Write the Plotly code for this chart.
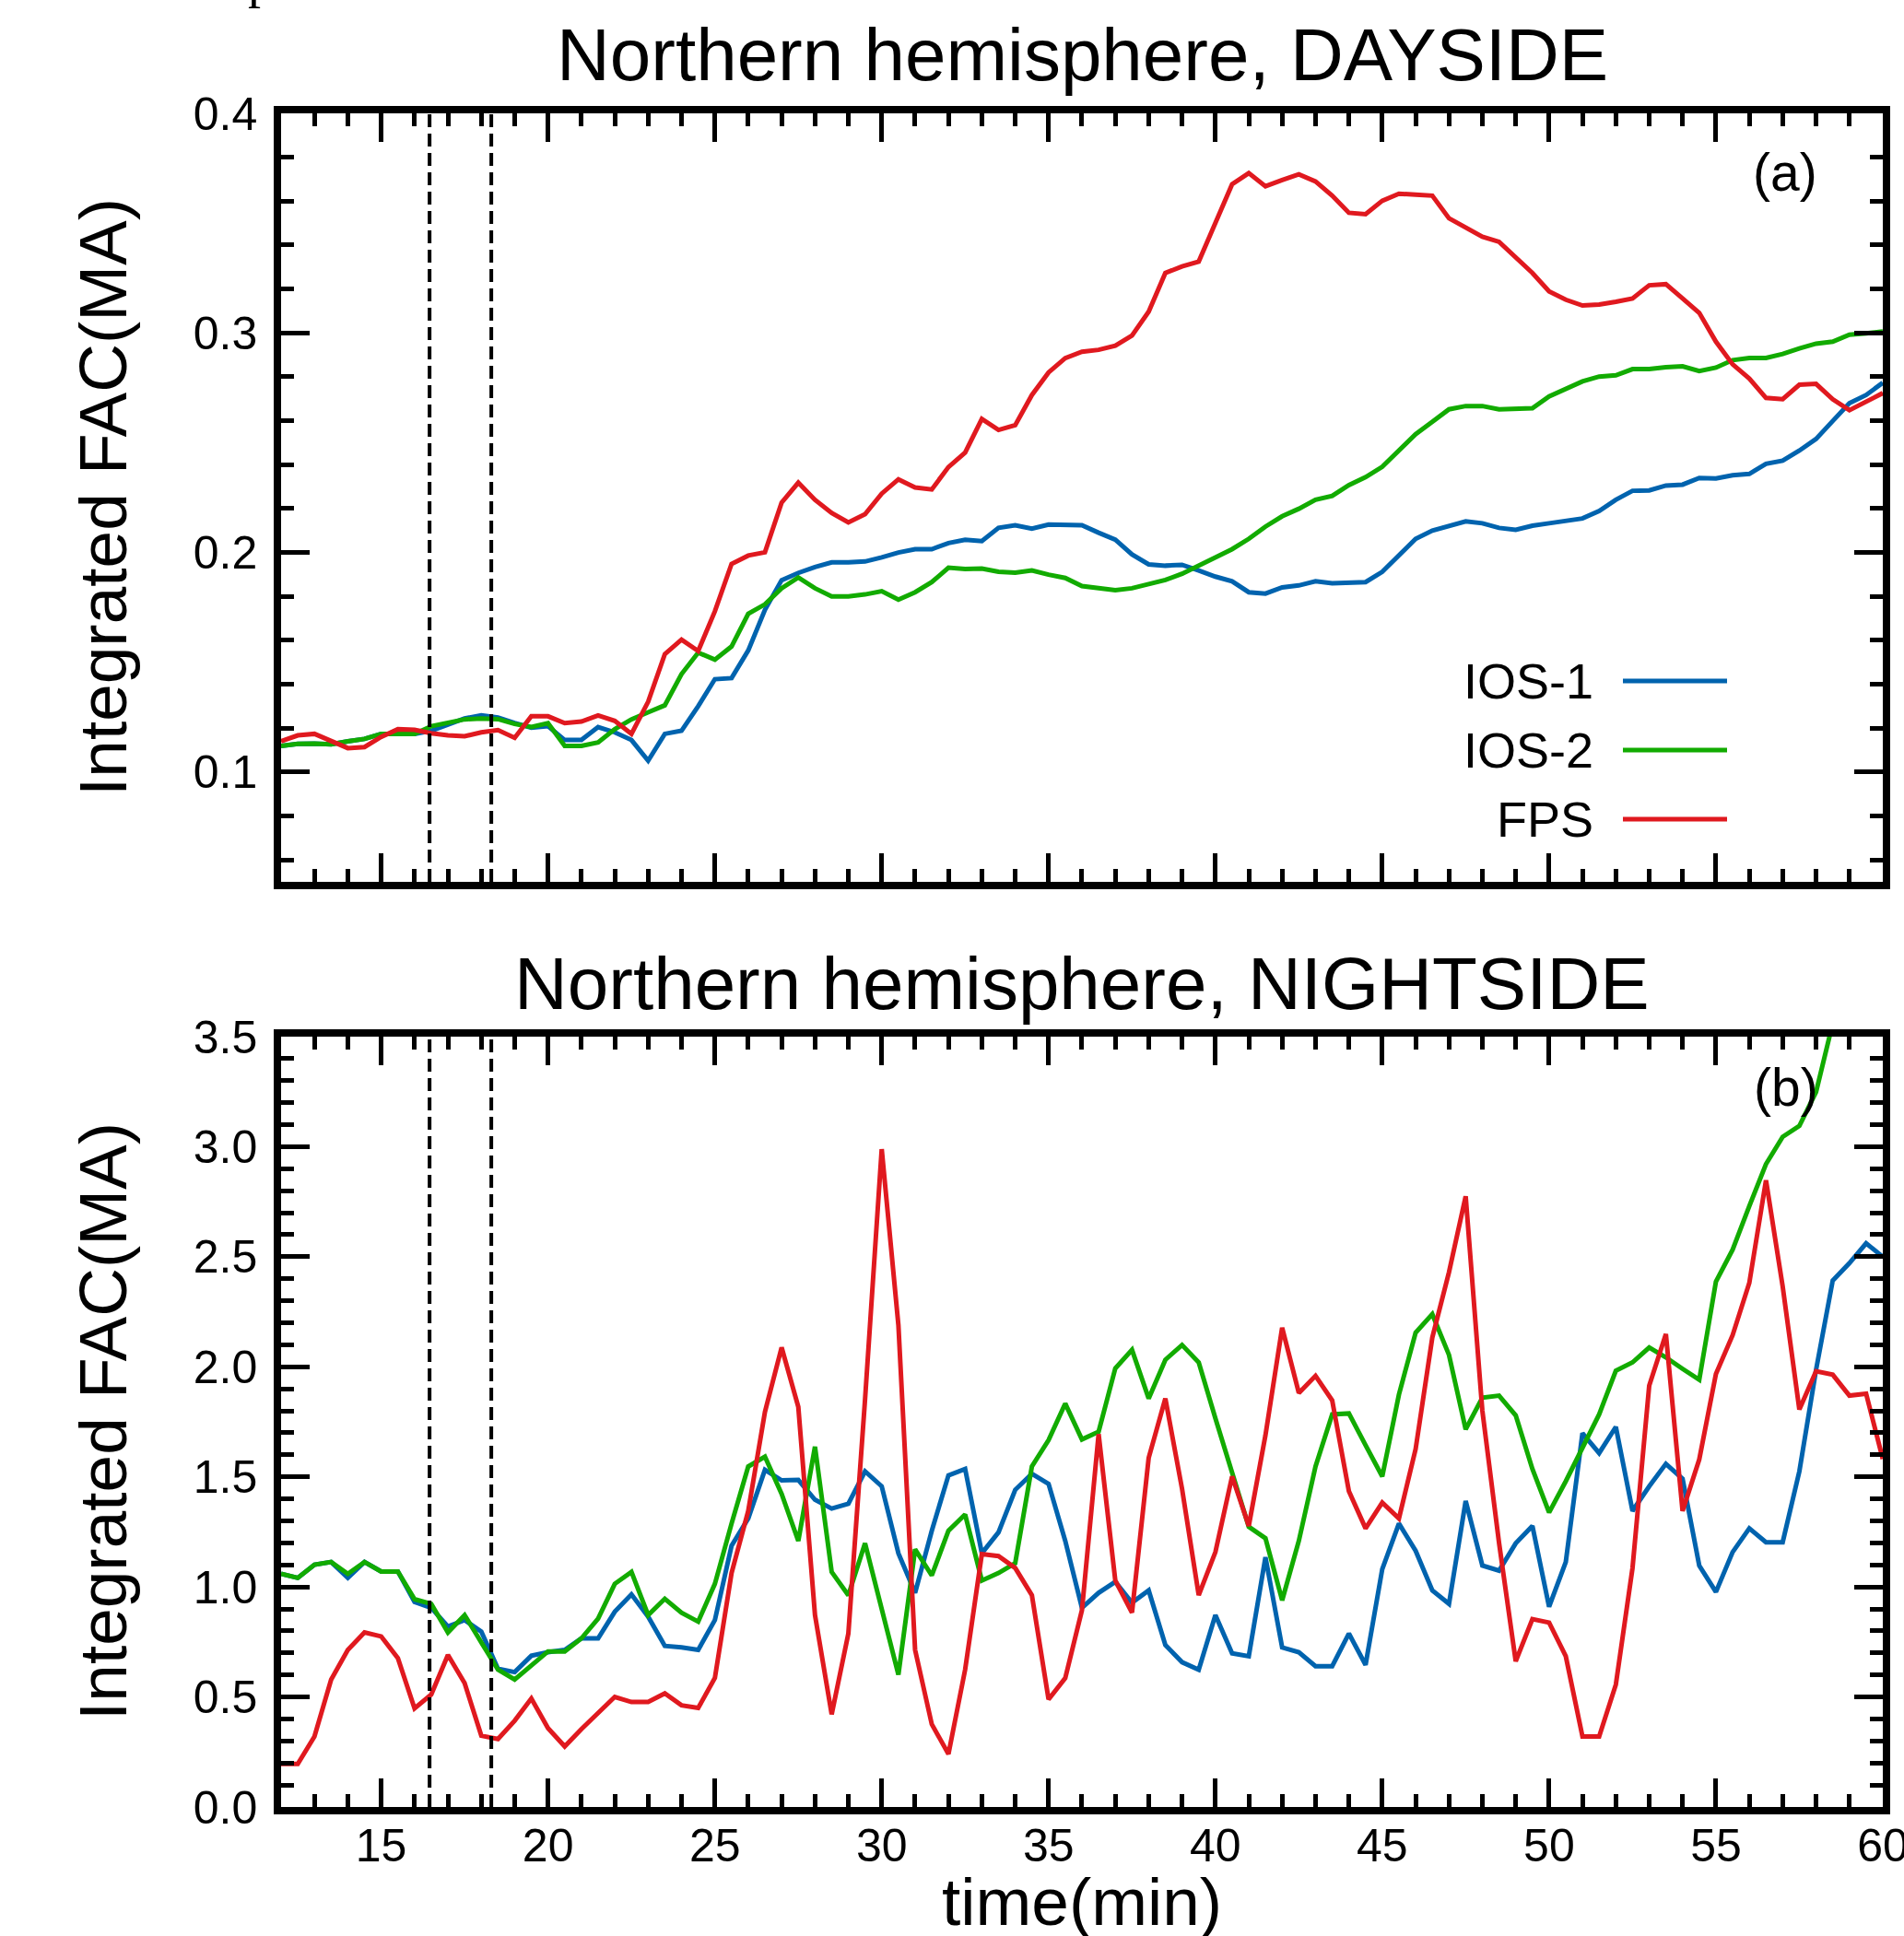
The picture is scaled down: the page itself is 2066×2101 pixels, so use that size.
import plotly.graph_objects as go

# ---------------- data (time step 0.5 min, 12..60 min) ----------------
time_min = [12 + 0.5 * i for i in range(97)]

day_ios1 = [0.1119, 0.1128, 0.1130, 0.1126, 0.1140, 0.1151, 0.1174, 0.1172, 0.1174, 0.1188,
            0.1216, 0.1244, 0.1258, 0.1248, 0.1223, 0.1202, 0.1209, 0.1146, 0.1146, 0.1205,
            0.1181, 0.1146, 0.1052, 0.1174, 0.1188, 0.1300, 0.1423, 0.1428, 0.1554, 0.1739,
            0.1874, 0.1907, 0.1934, 0.1955, 0.1955, 0.1959, 0.1978, 0.2000, 0.2015, 0.2015,
            0.2043, 0.2058, 0.2052, 0.2112, 0.2124, 0.2109, 0.2127, 0.2127, 0.2124, 0.2090,
            0.2058, 0.1991, 0.1946, 0.1940, 0.1944, 0.1918, 0.1890, 0.1869, 0.1819, 0.1813,
            0.1841, 0.1850, 0.1869, 0.1860, 0.1862, 0.1865, 0.1912, 0.1987, 0.2062, 0.2100,
            0.2122, 0.2142, 0.2133, 0.2112, 0.2103, 0.2122, 0.2133, 0.2146, 0.2155, 0.2189,
            0.2240, 0.2281, 0.2283, 0.2305, 0.2309, 0.2339, 0.2337, 0.2352, 0.2358, 0.2404,
            0.2418, 0.2464, 0.2517, 0.2599, 0.2680, 0.2717, 0.2773]

day_ios2 = [0.1119, 0.1128, 0.1130, 0.1126, 0.1140, 0.1151, 0.1174, 0.1172, 0.1174, 0.1209,
            0.1223, 0.1240, 0.1244, 0.1241, 0.1219, 0.1205, 0.1223, 0.1119, 0.1119, 0.1135,
            0.1195, 0.1240, 0.1272, 0.1304, 0.1446, 0.1544, 0.1512, 0.1572, 0.1721, 0.1764,
            0.1837, 0.1886, 0.1837, 0.1800, 0.1800, 0.1809, 0.1824, 0.1785, 0.1819, 0.1865,
            0.1931, 0.1925, 0.1927, 0.1912, 0.1908, 0.1918, 0.1899, 0.1884, 0.1847, 0.1837,
            0.1828, 0.1837, 0.1856, 0.1875, 0.1903, 0.1940, 0.1978, 0.2015, 0.2062, 0.2118,
            0.2165, 0.2199, 0.2240, 0.2258, 0.2307, 0.2343, 0.2390, 0.2464, 0.2539, 0.2595,
            0.2652, 0.2667, 0.2667, 0.2652, 0.2655, 0.2657, 0.2711, 0.2745, 0.2779, 0.2801,
            0.2807, 0.2835, 0.2835, 0.2844, 0.2848, 0.2826, 0.2842, 0.2876, 0.2886, 0.2886,
            0.2904, 0.2929, 0.2951, 0.2960, 0.2992, 0.2998, 0.3007]

day_fps = [0.1140, 0.1167, 0.1174, 0.1140, 0.1109, 0.1114, 0.1160, 0.1195, 0.1192, 0.1177,
           0.1167, 0.1163, 0.1181, 0.1191, 0.1156, 0.1254, 0.1254, 0.1223, 0.1230, 0.1258,
           0.1233, 0.1174, 0.1320, 0.1537, 0.1603, 0.1551, 0.1732, 0.1948, 0.1986, 0.2001,
           0.2227, 0.2318, 0.2240, 0.2180, 0.2137, 0.2174, 0.2268, 0.2333, 0.2296, 0.2287,
           0.2389, 0.2455, 0.2608, 0.2558, 0.2580, 0.2717, 0.2820, 0.2885, 0.2914, 0.2923,
           0.2942, 0.2988, 0.3097, 0.3273, 0.3303, 0.3325, 0.3503, 0.3677, 0.3728, 0.3668,
           0.3696, 0.3722, 0.3690, 0.3625, 0.3547, 0.3541, 0.3602, 0.3634, 0.3630, 0.3625,
           0.3522, 0.3481, 0.3438, 0.3415, 0.3344, 0.3273, 0.3189, 0.3151, 0.3125, 0.3129,
           0.3142, 0.3157, 0.3217, 0.3222, 0.3157, 0.3091, 0.2960, 0.2857, 0.2792, 0.2704,
           0.2698, 0.2764, 0.2768, 0.2698, 0.2648, 0.2689, 0.2726]

night_ios1 = [1.059, 1.041, 1.101, 1.113, 1.041, 1.113, 1.070, 1.070, 0.932, 0.905,
              0.820, 0.849, 0.797, 0.628, 0.613, 0.687, 0.703, 0.714, 0.766, 0.766,
              0.887, 0.966, 0.865, 0.732, 0.725, 0.714, 0.849, 1.187, 1.311, 1.532,
              1.484, 1.486, 1.396, 1.356, 1.378, 1.525, 1.457, 1.153, 0.973, 1.255,
              1.507, 1.536, 1.153, 1.248, 1.441, 1.514, 1.468, 1.209, 0.905, 0.973,
              1.023, 0.928, 0.984, 0.736, 0.658, 0.624, 0.872, 0.698, 0.685, 1.135,
              0.725, 0.703, 0.640, 0.640, 0.788, 0.646, 1.081, 1.288, 1.164, 0.984,
              0.923, 1.390, 1.097, 1.074, 1.198, 1.277, 0.910, 1.113, 1.698, 1.608,
              1.727, 1.345, 1.457, 1.559, 1.491, 1.097, 0.977, 1.158, 1.266, 1.203,
              1.203, 1.525, 1.986, 2.392, 2.471, 2.561, 2.500]

night_ios2 = [1.059, 1.041, 1.101, 1.113, 1.059, 1.113, 1.070, 1.070, 0.944, 0.923,
              0.793, 0.872, 0.748, 0.624, 0.579, 0.646, 0.707, 0.707, 0.766, 0.856,
              1.014, 1.068, 0.872, 0.946, 0.883, 0.842, 1.014, 1.288, 1.547, 1.592,
              1.423, 1.209, 1.637, 1.068, 0.962, 1.198, 0.905, 0.601, 1.171, 1.052,
              1.255, 1.329, 1.029, 1.063, 1.108, 1.547, 1.667, 1.833, 1.670, 1.705,
              1.993, 2.077, 1.856, 2.032, 2.099, 2.020, 1.766, 1.525, 1.273, 1.221,
              0.939, 1.209, 1.547, 1.784, 1.788, 1.644, 1.502, 1.874, 2.155, 2.239,
              2.054, 1.716, 1.860, 1.869, 1.779, 1.536, 1.338, 1.480, 1.637, 1.784,
              1.982, 2.020, 2.088, 2.043, 1.991, 1.941, 2.387, 2.532, 2.730, 2.921,
              3.045, 3.095, 3.248, 3.560, 3.900, 4.200, 4.500]

night_fps = [0.196, 0.196, 0.320, 0.579, 0.714, 0.793, 0.775, 0.676, 0.448, 0.511,
             0.691, 0.563, 0.324, 0.309, 0.392, 0.493, 0.358, 0.275, 0.354, 0.426,
             0.500, 0.477, 0.477, 0.516, 0.462, 0.450, 0.586, 1.063, 1.345, 1.795,
             2.088, 1.818, 0.872, 0.421, 0.788, 1.851, 2.989, 2.189, 0.714, 0.376,
             0.241, 0.624, 1.149, 1.140, 1.086, 0.962, 0.489, 0.586, 0.894, 1.694,
             1.029, 0.883, 1.586, 1.856, 1.446, 0.962, 1.158, 1.502, 1.277, 1.689,
             2.178, 1.881, 1.959, 1.847, 1.435, 1.266, 1.383, 1.311, 1.626, 2.133,
             2.430, 2.775, 1.800, 1.200, 0.662, 0.854, 0.838, 0.685, 0.320, 0.320,
             0.556, 1.086, 1.914, 2.149, 1.345, 1.579, 1.968, 2.144, 2.381, 2.847,
             2.365, 1.806, 1.980, 1.964, 1.869, 1.878, 1.581]

series_names = ["IOS-1", "IOS-2", "FPS"]
series_colors = ["#0063ae", "#12ab00", "#e0191f"]
event_times = [16.45, 18.3]          # dashed vertical markers (min)
panel_titles = ["Northern hemisphere, DAYSIDE", "Northern hemisphere, NIGHTSIDE"]
panel_tags = ["(a)", "(b)"]
y_title = "Integrated FAC(MA)"
x_title = "time(min)"

FONT = "Liberation Sans, Arial, Helvetica, sans-serif"
W, H = 2066, 2101
ML, MR, MT, MB = 305, 23, 123, 140
PLOT_H = H - MT - MB
PLOT_W = W - ML - MR

def py(pix):   # paper y from pixel row
    return (H - MB - pix) / PLOT_H

def px(pix):   # paper x from pixel column
    return (pix - ML) / PLOT_W

fig = go.Figure()
day = [day_ios1, day_ios2, day_fps]
night = [night_ios1, night_ios2, night_fps]
for name, col, ys in zip(series_names, series_colors, day):
    fig.add_trace(go.Scatter(x=time_min, y=ys, mode="lines", name=name,
                             line=dict(color=col, width=5), xaxis="x", yaxis="y",
                             showlegend=False))
for name, col, ys in zip(series_names, series_colors, night):
    fig.add_trace(go.Scatter(x=time_min, y=ys, mode="lines", name=name,
                             line=dict(color=col, width=5), xaxis="x2", yaxis="y2",
                             showlegend=False))

axis_common = dict(showline=True, linewidth=7.5, linecolor="black", mirror="ticks",
                   ticks="inside", ticklen=31, tickwidth=5, tickcolor="black",
                   showgrid=False, zeroline=False, automargin=False,
                   tickfont=dict(family=FONT, size=50, color="black"))

xa = dict(axis_common, range=[12, 60.0005], tick0=0, dtick=5, ticklabeloverflow="allow",
          minor=dict(ticks="inside", ticklen=14, tickwidth=5, tickcolor="black",
                     dtick=1, tick0=0, showgrid=False))

top_dom = [py(957), 1.0]
bot_dom = [0.0, py(1125)]

fig.update_layout(
    width=W, height=H,
    margin=dict(l=ML, r=MR, t=MT, b=MB, pad=0, autoexpand=False),
    paper_bgcolor="white", plot_bgcolor="white",
    font=dict(family=FONT, color="black"),
    xaxis=dict(xa, anchor="y", showticklabels=False),
    yaxis=dict(axis_common, anchor="x", domain=top_dom, range=[0.05, 0.4],
               tick0=0, dtick=0.1, tickformat=".1f", ticklabelstandoff=8,
               minor=dict(ticks="inside", ticklen=14, tickwidth=5, tickcolor="black",
                          dtick=0.02, tick0=0, showgrid=False)),
    xaxis2=dict(xa, anchor="y2", showticklabels=True, ticklabelstandoff=-9),
    yaxis2=dict(axis_common, anchor="x2", domain=bot_dom, range=[0, 3.5],
                tick0=0, dtick=0.5, tickformat=".1f", ticklabelstandoff=8,
                minor=dict(ticks="inside", ticklen=14, tickwidth=5, tickcolor="black",
                           dtick=0.1, tick0=0, showgrid=False)),
    showlegend=False,
)

shapes = []
for yref in ["y domain", "y2 domain"]:
    xref = "x" if yref == "y domain" else "x2"
    for te in event_times:
        shapes.append(dict(type="line", xref=xref, yref=yref, x0=te, x1=te, y0=0, y1=1,
                           line=dict(color="black", width=4, dash="14px,7px"), layer="above"))

# legend (text left of line) in panel (a)
leg_rows = [739, 814, 889]
ann = []
for name, col, row in zip(series_names, series_colors, leg_rows):
    yfrac = (957 - row) / (957 - 123)
    shapes.append(dict(type="line", xref="x domain", yref="y domain",
                       x0=(1761 - ML) / PLOT_W, x1=(1874 - ML) / PLOT_W, y0=yfrac, y1=yfrac,
                       line=dict(color=col, width=5)))
    ann.append(dict(text=name, xref="paper", yref="paper", x=px(1731), y=py(row),
                    xanchor="right", yanchor="middle", showarrow=False,
                    font=dict(family=FONT, size=54, color="black")))

# titles
ann.append(dict(text=panel_titles[0], xref="paper", yref="paper", x=0.5, y=py(60),
                xanchor="center", yanchor="middle", showarrow=False,
                font=dict(family=FONT, size=80, color="black")))
ann.append(dict(text=panel_titles[1], xref="paper", yref="paper", x=0.5, y=py(1067),
                xanchor="center", yanchor="middle", showarrow=False,
                font=dict(family=FONT, size=80, color="black")))
# axis titles
for cy in [540, 1543]:
    ann.append(dict(text=y_title, xref="paper", yref="paper", x=px(111), y=py(cy),
                    xanchor="center", yanchor="middle", textangle=-90, showarrow=False,
                    font=dict(family=FONT, size=73, color="black")))
ann.append(dict(text=x_title, xref="paper", yref="paper", x=0.5, y=py(2063),
                xanchor="center", yanchor="middle", showarrow=False,
                font=dict(family=FONT, size=73, color="black")))
# panel tags
ann.append(dict(text=panel_tags[0], xref="paper", yref="paper", x=px(1937), y=py(187),
                xanchor="center", yanchor="middle", showarrow=False,
                font=dict(family=FONT, size=57, color="black")))
ann.append(dict(text=panel_tags[1], xref="paper", yref="paper", x=px(1938), y=py(1180),
                xanchor="center", yanchor="middle", showarrow=False,
                font=dict(family=FONT, size=57, color="black")))
# clipped glyph at the very top-left
ann.append(dict(text="p", xref="paper", yref="paper", x=px(283), y=py(-22),
                xanchor="center", yanchor="middle", showarrow=False,
                font=dict(family="Liberation Serif, serif", size=56, color="black")))

fig.update_layout(shapes=shapes, annotations=ann)
fig.write_html("out.html")
